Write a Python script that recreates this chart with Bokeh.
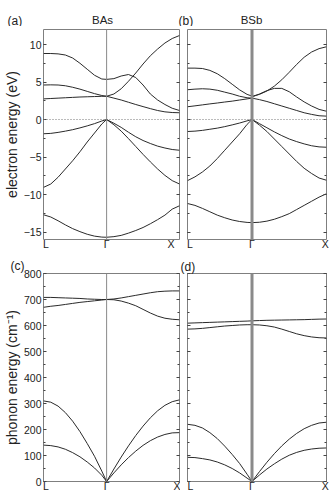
from bokeh.plotting import figure
from bokeh.models import (LinearAxis, SingleIntervalTicker, FixedTicker, Span, Title,
                          Range1d, CustomJSTickFormatter)
from bokeh.core.properties import value
from bokeh.layouts import column, row
from bokeh.embed import file_html
from bokeh.resources import INLINE

# ---------------- data ----------------
# k-path coordinates (L -> Gamma -> X)
k_L, k_G, k_X = 0.0, 0.866, 1.866
E_F = 0.0
k_left = [0.0, 0.1, 0.2, 0.3, 0.4, 0.5, 0.6, 0.7, 0.8, 0.866]
k_right = [0.866, 0.966, 1.066, 1.166, 1.266, 1.366, 1.466, 1.566, 1.666, 1.766, 1.866]

# x tick label positions / labels
xtick_labels = ["L", "Γ", "X"]
xtick_pos_a = [0.034, 0.866, 1.75]
xtick_pos_b = [0.034, 0.866, 1.85]
xtick_pos_c = [0.034, 0.866, 1.84]
xtick_pos_d = [0.04, 0.866, 1.85]

panel_tags = ["(a)", "(b)", "(c)", "(d)"]
materials = ["BAs", "BSb"]
ylabel_el = "electron energy (eV)"
ylabel_ph = "phonon energy (cm\u207b\u00b9)"

# BAs electron bands (eV)
bas_el_left = [
    [8.8, 8.8, 8.75, 8.6, 8.2, 7.5, 6.7, 5.9, 5.4, 5.35],
    [4.6, 4.62, 4.6, 4.5, 4.3, 4.05, 3.75, 3.45, 3.2, 3.1],
    [2.75, 2.8, 2.85, 2.9, 2.95, 3.0, 3.03, 3.06, 3.09, 3.1],
    [-1.9, -1.85, -1.72, -1.55, -1.36, -1.12, -0.85, -0.55, -0.2, 0.0],
    [-9.05, -8.6, -7.7, -6.6, -5.5, -4.3, -3.0, -1.8, -0.6, 0.0],
    [-12.7, -13.0, -13.5, -14.05, -14.55, -14.95, -15.3, -15.55, -15.68, -15.7],
]
bas_el_right = [
    [3.1, 3.4, 4.1, 5.1, 6.2, 7.4, 8.5, 9.4, 10.2, 10.8, 11.2],
    [5.35, 5.45, 5.8, 6.0, 5.6, 4.6, 3.4, 2.6, 2.0, 1.5, 1.2],
    [3.1, 2.85, 2.6, 2.3, 2.0, 1.72, 1.45, 1.2, 1.02, 0.93, 0.9],
    [0.0, -0.5, -1.05, -1.7, -2.3, -2.8, -3.2, -3.55, -3.8, -4.0, -4.1],
    [0.0, -0.7, -1.55, -2.55, -3.6, -4.65, -5.65, -6.6, -7.45, -8.15, -8.6],
    [-15.7, -15.62, -15.45, -15.15, -14.8, -14.4, -13.9, -13.35, -12.75, -11.95, -11.5],
]

# BSb electron bands (eV)
bsb_el_left = [
    [6.85, 6.85, 6.8, 6.55, 6.1, 5.45, 4.7, 3.95, 3.35, 3.12],
    [3.97, 4.05, 4.1, 4.05, 3.9, 3.65, 3.4, 3.1, 2.9, 2.85],
    [1.7, 1.82, 1.95, 2.08, 2.2, 2.33, 2.45, 2.6, 2.75, 2.85],
    [-1.6, -1.55, -1.45, -1.3, -1.15, -0.95, -0.72, -0.47, -0.18, 0.0],
    [-8.15, -7.65, -7.0, -6.2, -5.2, -4.1, -3.0, -1.9, -0.65, 0.0],
    [-11.2, -11.45, -11.85, -12.3, -12.75, -13.1, -13.4, -13.6, -13.72, -13.75],
]
bsb_el_right = [
    [3.1, 3.35, 3.8, 4.45, 5.3, 6.3, 7.35, 8.3, 9.0, 9.45, 9.7],
    [3.0, 3.4, 3.85, 4.15, 4.15, 3.7, 3.0, 2.35, 1.8, 1.35, 1.1],
    [2.85, 2.65, 2.4, 2.1, 1.8, 1.5, 1.2, 0.9, 0.68, 0.5, 0.45],
    [0.0, -0.55, -1.1, -1.65, -2.15, -2.6, -2.95, -3.25, -3.5, -3.65, -3.7],
    [0.0, -0.75, -1.6, -2.6, -3.6, -4.6, -5.6, -6.5, -7.2, -7.8, -8.1],
    [-13.75, -13.7, -13.55, -13.3, -12.95, -12.55, -12.0, -11.45, -10.9, -10.35, -9.9],
]

# BAs phonon branches (cm^-1)
bas_ph_left = [
    [708, 708, 707, 706, 705, 704, 702, 701, 700, 700],
    [670, 674, 677, 681, 685, 689, 692, 695, 698, 700],
    [310, 305, 290, 265, 232, 192, 146, 97, 40, 0],
    [140, 138, 133, 124, 111, 95, 75, 52, 24, 0],
]
bas_ph_right = [
    [700, 702, 706, 711, 716, 721, 726, 730, 732, 733, 733],
    [700, 699, 694, 686, 676, 662, 648, 636, 628, 624, 622],
    [0, 48, 94, 137, 177, 213, 245, 272, 293, 307, 314],
    [0, 33, 64, 92, 117, 139, 157, 171, 181, 187, 188],
]

# BSb phonon branches (cm^-1)
bsb_ph_left = [
    [609, 610, 611, 612, 613, 614, 615, 616, 617, 618],
    [586, 587, 589, 592, 595, 598, 600, 602, 603, 603],
    [220, 216, 206, 188, 165, 136, 104, 69, 28, 0],
    [93, 92, 88, 83, 75, 64, 50, 33, 13, 0],
]
bsb_ph_right = [
    [618, 619, 620, 620.5, 621, 621.5, 622, 622.5, 623.5, 624.5, 625],
    [603, 602, 599, 594, 586, 577, 568, 561, 556, 553, 552],
    [0, 38, 74, 107, 137, 163, 185, 203, 216, 225, 228],
    [0, 25, 48, 68, 86, 101, 112, 120, 125, 128, 129],
]

el_range = (-16, 12)
ph_range = (0, 800)

# ---------------- style / layout ----------------
FONT = "Liberation Sans"
FRAME = "#7f7f7f"
BAND = "#2a2a2a"
GAMMA = "#8a8a8a"
TXT = "#222222"
W_LEFT, W_RIGHT = 180, 152      # canvas widths (left / right column)
HEADER_H = 26


def make_panel(width, height, yr, interval, mb, xpos, show_ylabels, gamma_w,
               left_bands, right_bands, fermi, ylabel=None):
    p = figure(width=width, height=height, title=None,
               x_range=Range1d(k_L, k_X), y_range=Range1d(*yr),
               output_backend="svg", toolbar_location=None,
               min_border_left=mb[0], min_border_right=mb[1],
               min_border_top=mb[2], min_border_bottom=mb[3])
    p.xgrid.visible = False
    p.ygrid.visible = False
    p.outline_line_color = FRAME
    p.outline_line_width = 1
    p.background_fill_color = "white"
    p.border_fill_color = "white"

    # x axis: labels only
    xa = p.xaxis[0]
    xa.ticker = FixedTicker(ticks=xpos)
    xa.major_label_overrides = {xpos[i]: xtick_labels[i] for i in range(3)}
    xa.major_tick_in = 0
    xa.major_tick_out = 0
    xa.minor_tick_in = 0
    xa.minor_tick_out = 0
    xa.axis_line_color = None
    xa.major_label_standoff = -2
    xa.major_label_text_font = FONT
    xa.major_label_text_font_size = "10.5px"
    xa.major_label_text_color = TXT

    # left y axis
    ya = p.yaxis[0]
    ya.ticker = SingleIntervalTicker(interval=interval, num_minor_ticks=2)
    ya.major_tick_in = 3
    ya.major_tick_out = 0
    ya.minor_tick_in = 2
    ya.minor_tick_out = 0
    ya.axis_line_color = None
    ya.major_tick_line_color = "#444444"
    ya.minor_tick_line_color = "#444444"
    ya.major_label_text_font = FONT
    ya.major_label_text_font_size = "10.5px"
    ya.major_label_text_color = TXT
    if show_ylabels:
        ya.major_label_standoff = 2
    else:
        ya.major_label_standoff = 0
        ya.formatter = CustomJSTickFormatter(code="return ''")
    if ylabel:
        ya.axis_label = ylabel
        ya.axis_label_standoff = 1
        ya.axis_label_text_font = FONT
        ya.axis_label_text_font_size = "14px"
        ya.axis_label_text_font_style = "normal"
        ya.axis_label_text_color = TXT

    # right mirror axis (ticks only)
    ra = LinearAxis(ticker=SingleIntervalTicker(interval=interval, num_minor_ticks=2),
                    formatter=CustomJSTickFormatter(code="return ''"))
    ra.major_tick_in = 3
    ra.major_tick_out = 0
    ra.minor_tick_in = 2
    ra.minor_tick_out = 0
    ra.axis_line_color = None
    ra.major_tick_line_color = "#444444"
    ra.minor_tick_line_color = "#444444"
    ra.major_label_standoff = 0
    p.add_layout(ra, "right")

    # Gamma line and Fermi level
    p.add_layout(Span(location=k_G, dimension="height", line_color=GAMMA,
                      line_width=gamma_w))
    if fermi:
        p.add_layout(Span(location=E_F, dimension="width", line_color="#777777",
                          line_width=1, line_dash="1 2"))

    for b in left_bands:
        p.line(k_left, b, line_color=BAND, line_width=1)
    for b in right_bands:
        p.line(k_right, b, line_color=BAND, line_width=1)
    return p


# header strip with panel tags and material names (screen-like coordinates)
hdr = figure(width=W_LEFT + W_RIGHT, height=HEADER_H, title=None,
             x_range=Range1d(0, W_LEFT + W_RIGHT), y_range=Range1d(HEADER_H, 0),
             x_axis_location=None, y_axis_location=None,
             output_backend="svg", toolbar_location=None,
             min_border_left=0, min_border_right=0, min_border_top=0, min_border_bottom=0)
hdr.xgrid.visible = False
hdr.ygrid.visible = False
hdr.outline_line_color = None
hdr.text(x=[7, 178], y=[20, 20], text=[panel_tags[0], panel_tags[1]],
         text_font=value(FONT), text_font_size=value("12px"), text_align="left",
         text_baseline="middle", text_color=TXT)
hdr.text(x=[102, 251], y=[19, 19], text=materials,
         text_font=value(FONT), text_font_size=value("11.5px"), text_align="center",
         text_baseline="middle", text_color=TXT)

pa = make_panel(W_LEFT, 230, el_range, 5, (40, 1, 3, 17), xtick_pos_a, True, 1,
                bas_el_left, bas_el_right, True, ylabel=ylabel_el)
pb = make_panel(W_RIGHT, 230, el_range, 5, (7, 6, 3, 17), xtick_pos_b, False, 3,
                bsb_el_left, bsb_el_right, True)
pc = make_panel(W_LEFT, 242, ph_range, 100, (40, 1, 16, 17), xtick_pos_c, True, 1,
                bas_ph_left, bas_ph_right, False, ylabel=ylabel_ph)
pd = make_panel(W_RIGHT, 242, ph_range, 100, (7, 6, 16, 17), xtick_pos_d, False, 3,
                bsb_ph_left, bsb_ph_right, False)

pc.add_layout(Title(text=panel_tags[2], align="left", offset=-33, standoff=1,
                    text_font=FONT, text_font_size="12px", text_font_style="normal",
                    text_color=TXT), "above")
pd.add_layout(Title(text=panel_tags[3], align="left", offset=-7, standoff=0,
                    text_font=FONT, text_font_size="12px", text_font_style="normal",
                    text_color=TXT), "above")

layout = column(hdr, row(pa, pb, spacing=0), row(pc, pd, spacing=0), spacing=0)

with open("out.html", "w") as f:
    f.write(file_html(layout, INLINE))
